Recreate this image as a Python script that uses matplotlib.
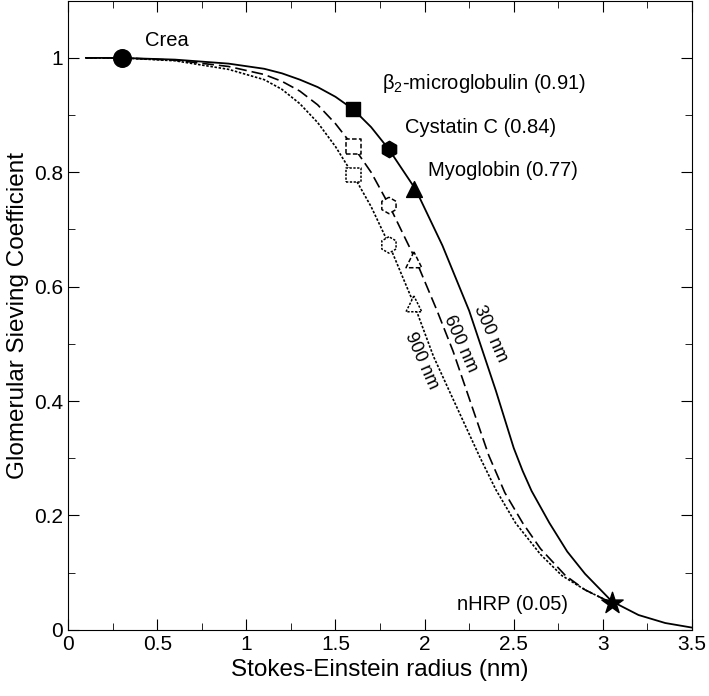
import matplotlib.pyplot as plt
from matplotlib.ticker import MultipleLocator, FormatStrFormatter

plt.rcParams['font.family'] = ['Liberation Sans', 'DejaVu Sans']

# curves
x300 = [0.1, 0.3, 0.6, 0.9, 1.1, 1.2, 1.3, 1.4, 1.5, 1.6, 1.7, 1.8, 1.95, 2.1, 2.25,
        2.4, 2.5, 2.55, 2.6, 2.7, 2.8, 2.9, 3.05, 3.2, 3.35, 3.5]
y300 = [1.0, 1.0, 0.997, 0.99, 0.981, 0.973, 0.962, 0.949, 0.932, 0.91, 0.879, 0.84,
        0.77, 0.672, 0.558, 0.418, 0.318, 0.278, 0.243, 0.187, 0.137, 0.098, 0.05,
        0.026, 0.012, 0.004]

x600 = [0.1, 0.3, 0.6, 0.9, 1.1, 1.2, 1.3, 1.4, 1.5, 1.6, 1.7, 1.8, 1.95, 2.07, 2.16,
        2.25, 2.36, 2.45, 2.55, 2.65, 2.79, 2.9, 3.05]
y600 = [1.0, 1.0, 0.996, 0.985, 0.971, 0.959, 0.942, 0.918, 0.885, 0.845, 0.80, 0.743,
        0.647, 0.558, 0.487, 0.405, 0.305, 0.24, 0.187, 0.142, 0.095, 0.07, 0.047]

x900 = [0.1, 0.3, 0.6, 0.9, 1.1, 1.2, 1.3, 1.4, 1.5, 1.6, 1.7, 1.8, 1.94, 2.05, 2.15,
        2.31, 2.4, 2.51, 2.65, 2.77, 2.9, 3.05]
y900 = [1.0, 1.0, 0.995, 0.98, 0.962, 0.945, 0.92, 0.887, 0.845, 0.795, 0.74, 0.674,
        0.57, 0.478, 0.41, 0.302, 0.245, 0.187, 0.132, 0.095, 0.07, 0.047]

# solutes (radius, sieving coefficient)
names = ['Crea', r'$\mathregular{\beta_2}$-microglobulin (0.91)', 'Cystatin C (0.84)',
         'Myoglobin (0.77)', 'nHRP (0.05)']
radius = [0.3, 1.6, 1.8, 1.94, 3.05]
sc300 = [1.0, 0.91, 0.84, 0.77, 0.047]
sc600 = [0.845, 0.742, 0.647]
sc900 = [0.795, 0.673, 0.57]
mk = ['o', 's', 'h', '^', '*']
ms = [160, 110, 140, 130, 260]

fig = plt.figure(figsize=(7.09, 6.96), dpi=100)
ax = fig.add_axes([0.096, 0.095, 0.88, 0.904])

ax.plot(x300, y300, color='black', lw=1.3, ls='-')
ax.plot(x600, y600, color='black', lw=1.2, ls=(0, (7, 3)))
ax.plot(x900, y900, color='black', lw=1.2, ls=(0, (1.5, 1)))

for i in range(5):
    ax.scatter(radius[i], sc300[i], marker=mk[i], s=ms[i], color='black', zorder=5)
for i in range(3):
    ax.scatter(radius[i + 1], sc600[i], marker=mk[i + 1], s=ms[i + 1], facecolor='white',
               edgecolor='black', linewidth=1.1, linestyle=(0, (3, 1.5)), zorder=5)
    ax.scatter(radius[i + 1], sc900[i], marker=mk[i + 1], s=ms[i + 1], facecolor='white',
               edgecolor='black', linewidth=1.1, linestyle=(0, (1.5, 1)), zorder=5)

fs = 14.5
ax.text(0.43, 1.03, names[0], fontsize=fs, va='center')
ax.text(1.76, 0.956, names[1], fontsize=fs, va='center')
ax.text(1.89, 0.878, names[2], fontsize=fs, va='center')
ax.text(2.02, 0.803, names[3], fontsize=fs, va='center')
ax.text(2.18, 0.044, names[4], fontsize=fs, va='center')

ax.text(2.37, 0.518, '300 nm', fontsize=13, rotation=-66, ha='center', va='center')
ax.text(2.2, 0.501, '600 nm', fontsize=13, rotation=-66, ha='center', va='center')
ax.text(1.98, 0.471, '900 nm', fontsize=13, rotation=-66, ha='center', va='center')

ax.set_xlim(0, 3.5)
ax.set_ylim(0, 1.1)
ax.xaxis.set_major_locator(MultipleLocator(0.5))
ax.xaxis.set_minor_locator(MultipleLocator(0.25))
ax.yaxis.set_major_locator(MultipleLocator(0.2))
ax.yaxis.set_minor_locator(MultipleLocator(0.1))
ax.xaxis.set_major_formatter(FormatStrFormatter('%g'))
ax.yaxis.set_major_formatter(FormatStrFormatter('%g'))
ax.tick_params(which='both', direction='in', top=True, right=True, labelsize=15)
ax.tick_params(which='major', length=8)
ax.tick_params(which='minor', length=5)

ax.set_xlabel('Stokes-Einstein radius (nm)', fontsize=17.5, labelpad=4)
ax.set_ylabel('Glomerular Sieving Coefficient', fontsize=17.5, labelpad=4)

fig.savefig('out.png', dpi=100)
